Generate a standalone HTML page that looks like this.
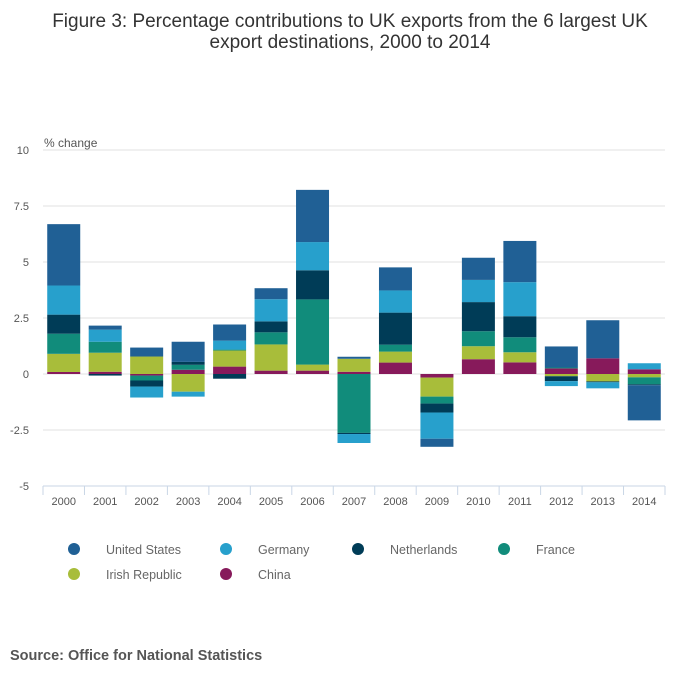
<!DOCTYPE html>
<html><head><meta charset="utf-8"><style>
body{margin:0;background:#fff;font-family:"Liberation Sans","DejaVu Sans",sans-serif;}
</style></head><body>
<svg id="chart" width="700" height="682" xmlns="http://www.w3.org/2000/svg">
<text x="350" y="27" text-anchor="middle" font-size="19" fill="#333">Figure 3: Percentage contributions to UK exports from the 6 largest UK</text>
<text x="350" y="48" text-anchor="middle" font-size="19" fill="#333">export destinations, 2000 to 2014</text>
<text x="44" y="147" font-size="12" fill="#555">% change</text>
<g id="grid"></g><g id="bars"></g><g id="xaxis"></g><g id="legend"></g>
<text x="10" y="660" font-size="14.5" font-weight="bold" fill="#555">Source: Office for National Statistics</text>
</svg>
<script>
const years=["2000","2001","2002","2003","2004","2005","2006","2007","2008","2009","2010","2011","2012","2013","2014"];
const china=[0.09,0.1,-0.07,0.19,0.33,0.15,0.15,0.1,0.51,-0.16,0.66,0.52,0.25,0.7,0.21];
const irish=[0.81,0.85,0.78,-0.79,0.72,1.17,0.27,0.58,0.49,-0.85,0.58,0.45,-0.1,-0.33,-0.15];
const france=[0.9,0.49,-0.22,0.22,0.04,0.54,2.91,-2.63,0.31,-0.31,0.67,0.67,0.04,0,-0.31];
const netherlands=[0.85,-0.07,-0.27,0.13,-0.21,0.49,1.3,-0.05,1.43,-0.4,1.3,0.94,-0.22,-0.04,-0.04];
const germany=[1.3,0.54,-0.49,-0.22,0.4,0.99,1.26,-0.4,0.99,-1.17,0.99,1.52,-0.22,-0.27,0.27];
const us=[2.74,0.18,0.4,0.9,0.72,0.49,2.33,0.09,1.03,-0.36,0.99,1.84,0.94,1.7,-1.57];
const yTicks=[10,7.5,5,2.5,0,-2.5,-5];
const yTickLabels=["10","7.5","5","2.5","0","-2.5","-5"];
const seriesNames=["China","Irish Republic","France","Netherlands","Germany","United States"];
const seriesColors=["#871a5b","#a8bd3a","#118c7b","#003c57","#27a0cc","#206095"];
const seriesData=[china,irish,france,netherlands,germany,us];
const NS="http://www.w3.org/2000/svg";
const x0=43,x1=665,yTop=150,yBot=486,vMax=10,vMin=-5;
const bw=(x1-x0)/years.length;
const y=v=>yTop+(vMax-v)/(vMax-vMin)*(yBot-yTop);
const xc=i=>x0+bw*(i+0.5);
function mk(t,a,p){const e=document.createElementNS(NS,t);for(const k in a)e.setAttribute(k,a[k]);p.appendChild(e);return e;}
const grid=document.getElementById('grid');
yTicks.forEach((v,i)=>{
  if(i<yTicks.length-1){const l=mk('line',{x1:x0,x2:x1,y1:y(v),y2:y(v),stroke:'#e2e2e2','stroke-width':1},grid);
  
  }
  const t=mk('text',{x:29,y:y(v)+4,'text-anchor':'end','font-size':11,fill:'#555'},grid);
  t.textContent=yTickLabels[i];
  
  
});
const bars=document.getElementById('bars');
years.forEach((yr,i)=>{
  let pos=0,neg=0;
  seriesData.forEach((s,k)=>{
    const v=s[i]; if(!v) return;
    let a,b;
    if(v>0){a=pos;b=pos+v;pos=b;}else{a=neg;b=neg+v;neg=b;}
    const top=y(Math.max(a,b)),bot=y(Math.min(a,b));
    const r=mk('rect',{x:xc(i)-16.5,y:top,width:33,height:bot-top,fill:seriesColors[k]},bars);
    
    
  });
});
const xa=document.getElementById('xaxis');
const ax=mk('line',{x1:x0,x2:x1,y1:yBot,y2:yBot,stroke:'#c9d6e6','stroke-width':1},xa);


for(let i=0;i<=years.length;i++){
  const tk=mk('line',{x1:x0+bw*i,x2:x0+bw*i,y1:yBot,y2:yBot+9,stroke:'#c9d6e6'},xa);
  
  
}
years.forEach((yr,i)=>{
  const t=mk('text',{x:xc(i),y:505,'text-anchor':'middle','font-size':11,fill:'#555'},xa);
  t.textContent=yr;
  
  
});
const leg=document.getElementById('legend');
const legOrder=[5,4,3,2,1,0];
const legPos=[[74,549],[226,549],[358,549],[504,549],[74,574],[226,574]];
legOrder.forEach((k,j)=>{
  const [lx,ly]=legPos[j];
  const g=mk('g',{},leg);
  
  
  mk('circle',{cx:lx,cy:ly,r:6,fill:seriesColors[k]},g);
  const t=mk('text',{x:lx+32,y:ly+5,'font-size':12.5,fill:'#666'},g);
  t.textContent=seriesNames[k];
});
</script>
</body></html>
